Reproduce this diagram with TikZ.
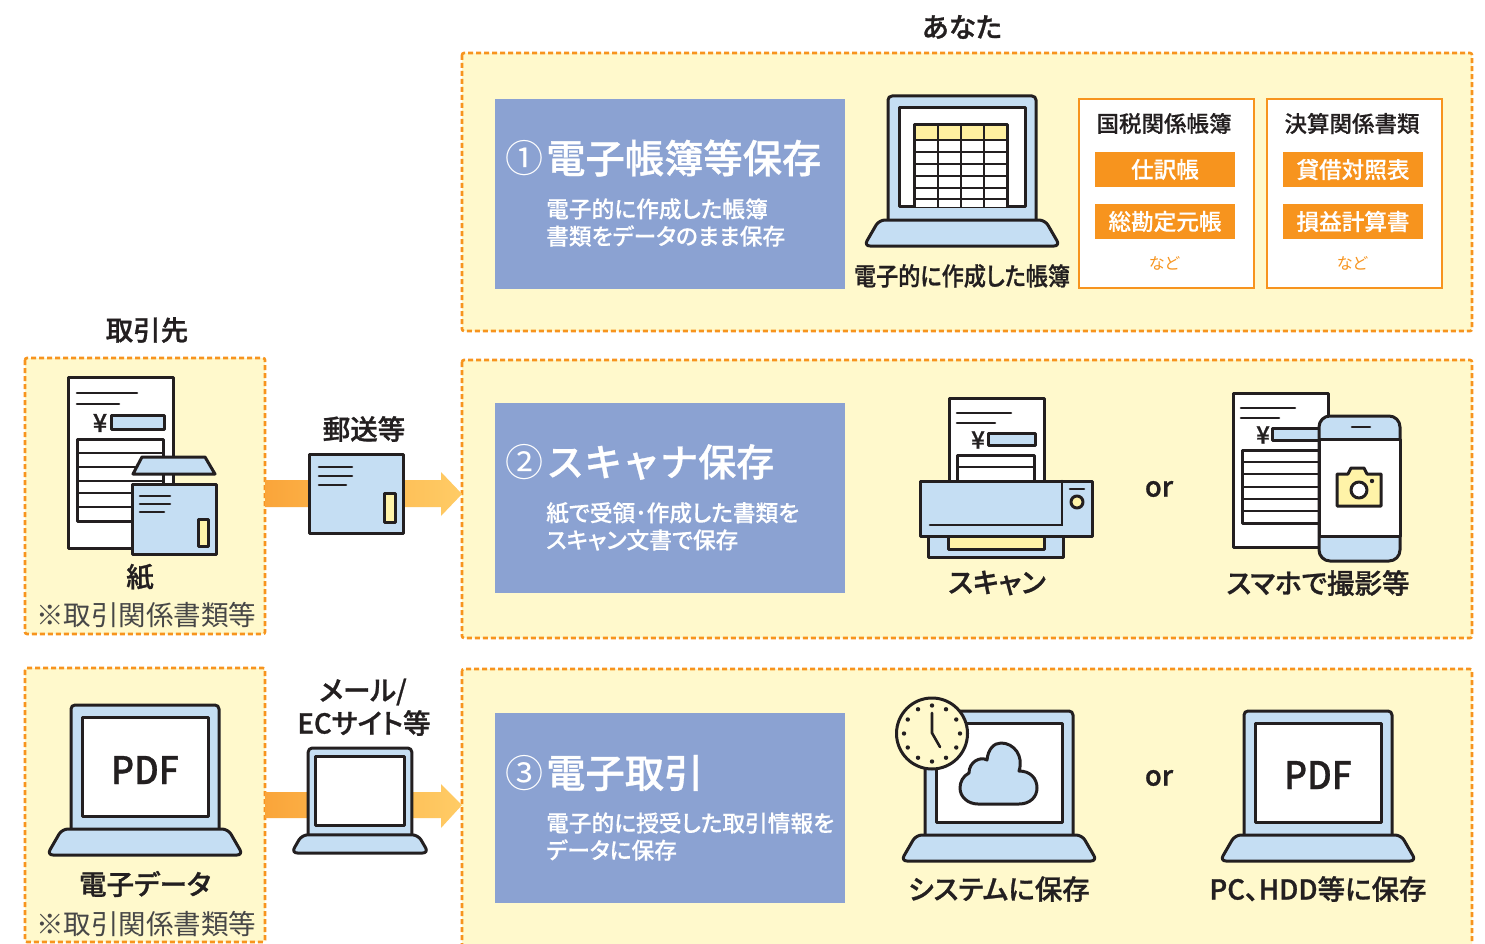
\documentclass[tikz,border=0pt]{standalone}
\usepackage{fontspec}
\setmainfont{Noto Sans CJK JP}[RawFeature=+palt]
\newfontfamily\fm{Noto Sans CJK JP Medium}[RawFeature=+palt,FakeBold=0.25]
\newfontfamily\fh{Noto Sans CJK JP Medium}[RawFeature=+palt,FakeBold=1]
\newfontfamily\fn{Noto Sans CJK JP Medium}[FakeBold=0.8]
\newfontfamily\fr{Noto Sans CJK JP}
\newcommand{\fsz}[1]{\fontsize{#1pt}{#1pt}\selectfont}
\definecolor{ink}{HTML}{231F20}
\definecolor{paneli}{HTML}{FFF9CC}
\definecolor{dashc}{HTML}{F7941E}
\definecolor{blueb}{HTML}{8BA2D2}
\definecolor{sky}{HTML}{C5DEF3}
\definecolor{paleyel}{HTML}{FFF3A8}
\definecolor{hdr}{HTML}{FFF0A0}
\definecolor{arrowa}{HTML}{FAA53A}
\definecolor{arrowb}{HTML}{FFCC66}
\tikzset{
  x=1pt,y=-1pt,
  panelbox/.style={draw=dashc,fill=paneli,line width=2.6pt,dash pattern=on 5pt off 3pt,rounded corners=2pt},
  bluebox/.style={fill=blueb},
  icon/.style={draw=ink,line width=3pt,line join=round},
  thin icon/.style={draw=ink,line width=2.6pt,line cap=round},
  rowline/.style={ink,line width=2.8pt},
  txt/.style={inner sep=0pt,outer sep=0pt,anchor=center,align=center,text=ink},
  head/.style={txt,font=\fh\fsz{27.5}},
  note/.style={txt,font=\fr\fsz{27.5},text=black!72},
  wh/.style={inner sep=0pt,anchor=west,align=left,text=white},
  subt/.style={wh,font=\fm\fsz{22.7}},
  orangebar/.style={inner sep=0pt,fill=dashc,minimum width=140pt,minimum height=35pt,text=white,font=\fm\fsz{22.6}},
  whitecard/.style={draw=dashc,fill=white,line width=2.4pt},
}
\newcommand{\laptop}[3]{%
  \begin{scope}[shift={(#1,#2)},scale=#3]
    \draw[icon,fill=sky,rounded corners=4pt] (-74,124) -- (-74,0) -- (74,0) -- (74,124);
    \draw[icon,fill=white] (-63,12) rectangle (63,111);
    \draw[icon,fill=sky,rounded corners=6pt] (-83,124) -- (83,124) -- (98,150) -- (-98,150) -- cycle;
  \end{scope}}
\begin{document}
\begin{tikzpicture}
\useasboundingbox (0,0) rectangle (1485,944);
\clip (0,0) rectangle (1485,944);
\fill[white] (0,0) rectangle (1485,944);

% panels
\draw[panelbox] (462,53) rectangle (1472,331);
\draw[panelbox] (462,360) rectangle (1472,638);
\draw[panelbox] (462,669) rectangle (1472,970);
\draw[panelbox] (25,358) rectangle (265,634);
\draw[panelbox] (25,668) rectangle (265,942);

% arrows
\shade[left color=arrowa,right color=arrowb,shading angle=90]
  (265,480) -- (441,480) -- (441,472) -- (462,494) -- (441,516) -- (441,507) -- (265,507) -- cycle;
\shade[left color=arrowa,right color=arrowb,shading angle=90]
  (265,792) -- (441,792) -- (441,784) -- (462,805) -- (441,828) -- (441,818) -- (265,818) -- cycle;

% headings
\node[head] (you) at (962,27) {あなた};
\node[head] (partner) at (147,330) {取引先};

% blue boxes
\fill[bluebox] (495,99) rectangle (845,289);
\fill[bluebox] (495,403) rectangle (845,593);
\fill[bluebox] (495,713) rectangle (845,903);

\node[wh,font=\fr\fsz{38}] (n1) at (505,158) {①};
\node[wh,font=\fn\fsz{39.3}] (t1) at (546,158) {電子帳簿等保存};
\node[subt] (s1a) at (546,209) {電子的に作成した帳簿};
\node[subt] (s1b) at (546,236) {書類をデータのまま保存};
\node[wh,font=\fr\fsz{38}] (n2) at (505,462) {②};
\node[wh,font=\fn\fsz{38}] (t2) at (546,462) {スキャナ保存};
\node[subt] (s2a) at (546,513) {紙で受領･作成した書類を};
\node[subt] (s2b) at (546,540) {スキャン文書で保存};
\node[wh,font=\fr\fsz{38}] (n3) at (505,773) {③};
\node[wh,font=\fn\fsz{39.3}] (t3) at (546,773) {電子取引};
\node[subt] (s3a) at (546,823) {電子的に授受した取引情報を};
\node[subt] (s3b) at (546,850) {データに保存};

% panel 1 laptop with table
\laptop{962}{96}{1}
\fill[white] (914,125) rectangle (1007,207);
\fill[hdr] (914,125) rectangle (1007,140);
\foreach \yy in {140,152,164,176,188,199} \draw[rowline] (914,\yy) -- (1007,\yy);
\foreach \xx in {938,961,984} \draw[rowline] (\xx,125) -- (\xx,207);
\draw[icon] (914,207) -- (914,125) -- (1007,125) -- (1007,207);
\node[txt,font=\fh\fsz{25}] (lbl1) at (962,276) {\scalebox{0.885}[1]{電子的に作成した帳簿}};

% cards
\draw[whitecard] (1079,99) rectangle (1254,288);
\draw[whitecard] (1267,99) rectangle (1442,288);
\node[txt,font=\fm\fsz{22.5}] (c1) at (1164,123.5) {国税関係帳簿};
\node[txt,font=\fm\fsz{22.5}] (c2) at (1352,123.5) {決算関係書類};
\node[orangebar] (b1) at (1165,169.5) {仕訳帳};
\node[orangebar] (b2) at (1165,221.5) {総勘定元帳};
\node[orangebar] (b3) at (1353,169.5) {貸借対照表};
\node[orangebar] (b4) at (1353,221.5) {損益計算書};
\node[txt,font=\fsz{16},text=dashc] (e1) at (1164,263) {など};
\node[txt,font=\fsz{16},text=dashc] (e2) at (1352,263) {など};

% left paper group
\draw[icon,fill=white] (68,377) rectangle (173,548);
\draw[thin icon] (77,393) -- (137,393) (77,404) -- (119,404);
\node[txt,font=\fh\fsz{25}] (yen1) at (100,423) {¥};
\draw[icon,fill=sky] (111,415) rectangle (164,429);
\draw[icon,fill=white] (77,439) rectangle (163,521);
\foreach \yy in {453,467,481,493,507} \draw[rowline] (77,\yy) -- (163,\yy);
\draw[icon,fill=sky] (142,457) -- (205,457) -- (215,474) -- (133,474) -- cycle;
\draw[icon,fill=sky] (132,484) rectangle (216,554);
\draw[thin icon] (140,496) -- (170,496) (140,504) -- (170,504) (140,512) -- (164,512);
\draw[icon,fill=paleyel] (198,519) rectangle (208,546);
\node[head] (paper) at (140,577) {紙};
\node[note] (noteA) at (146,615) {※取引関係書類等};

% mail parcel
\node[head] (mail) at (364,429) {郵送等};
\draw[icon,fill=sky] (309,454) rectangle (403,533);
\draw[thin icon] (319,467) -- (352,467) (319,476) -- (352,476) (319,485) -- (346,485);
\draw[icon,fill=paleyel] (384,493) rectangle (395,522);

% scanner
\draw[icon,fill=white] (949,398) rectangle (1044,482);
\draw[thin icon] (957,413) -- (1011,413) (957,423) -- (995,423);
\node[txt,font=\fh\fsz{24}] (yen2) at (978,440) {¥};
\draw[icon,fill=sky] (988,433) rectangle (1035,445);
\draw[icon,fill=white] (957,455) rectangle (1034,481);
\draw[rowline] (957,467) -- (1034,467);
\draw[icon,fill=sky] (928,536) rectangle (1063,557);
\draw[icon,fill=paleyel] (948,536) rectangle (1044,549);
\draw[icon,fill=sky] (920,481) rectangle (1092,536);
\draw[thin icon] (930,525) -- (1062,525) -- (1062,481);
\draw[thin icon] (1070,489) -- (1084,489);
\draw[icon,fill=paleyel] (1077,502) circle (6);
\node[head] (scan) at (997,583) {スキャン};
\node[head] (or1) at (1159,489) {or};

% phone group
\draw[icon,fill=white] (1233,393) rectangle (1328,547);
\draw[thin icon] (1241,408) -- (1295,408) (1241,418) -- (1279,418);
\node[txt,font=\fh\fsz{24}] (yen3) at (1263,435) {¥};
\draw[icon,fill=sky] (1272,428) rectangle (1325,440);
\draw[icon,fill=white] (1242,450) rectangle (1325,523);
\foreach \yy in {462,474,487,499,511} \draw[rowline] (1242,\yy) -- (1325,\yy);
\draw[icon,fill=sky,rounded corners=11pt] (1319,416) rectangle (1400,561);
\draw[icon,fill=white] (1319,439) rectangle (1400,536);
\draw[thin icon] (1352,427) -- (1370,427);
\draw[icon,fill=paleyel] (1337,474) -- (1348,474) -- (1351,468) -- (1364,468) -- (1367,474) -- (1381,474) -- (1381,506) -- (1337,506) -- cycle;
\draw[icon,fill=white] (1359,490) circle (8);
\fill[ink] (1372,481) circle (2.2);
\node[head] (phone) at (1318,583) {スマホで撮影等};

% left PDF laptop
\laptop{145}{705}{1}
\node[txt,font=\fn\fsz{38}] (pdf1) at (145,770) {\scalebox{0.93}[1]{PDF}};
\node[head] (edata) at (145,884) {電子データ};
\node[note] (noteB) at (146,924) {※取引関係書類等};

% mail laptop
\node[head] (mail2a) at (363,692) {メール/};
\node[head] (mail2b) at (364,723) {ECサイト等};
\laptop{360}{748}{0.7}

% system laptop
\laptop{999}{711}{1}
\draw[icon,fill=sky] (978,804) -- (1019,804) .. controls (1030,804) and (1037,797) .. (1037,788)
  .. controls (1037,778) and (1030,771) .. (1019,771)
  .. controls (1024,756) and (1014,743) .. (1001,743)
  .. controls (994,743) and (988,749) .. (987,760)
  .. controls (980,756) and (969,762) .. (969,773)
  .. controls (963,776) and (960,782) .. (960,788)
  .. controls (960,797) and (968,804) .. (978,804) -- cycle;
\draw[icon,fill=paneli] (932,733.5) circle (35.5);
\foreach \aa in {0,30,...,330} \fill[ink] ({932+28*cos(\aa)},{733.5+28*sin(\aa)}) circle (2.2);
\draw[thin icon] (932,713) -- (932,733) -- (940,747);
\node[head] (sys) at (999,889) {システムに保存};
\node[head] (or2) at (1159,778) {or};

% PC laptop
\laptop{1318}{711}{1}
\node[txt,font=\fn\fsz{38}] (pdf2) at (1318,775) {\scalebox{0.93}[1]{PDF}};
\node[head] (pc) at (1318,889) {PC、HDD等に保存};
\end{tikzpicture}
\end{document}
